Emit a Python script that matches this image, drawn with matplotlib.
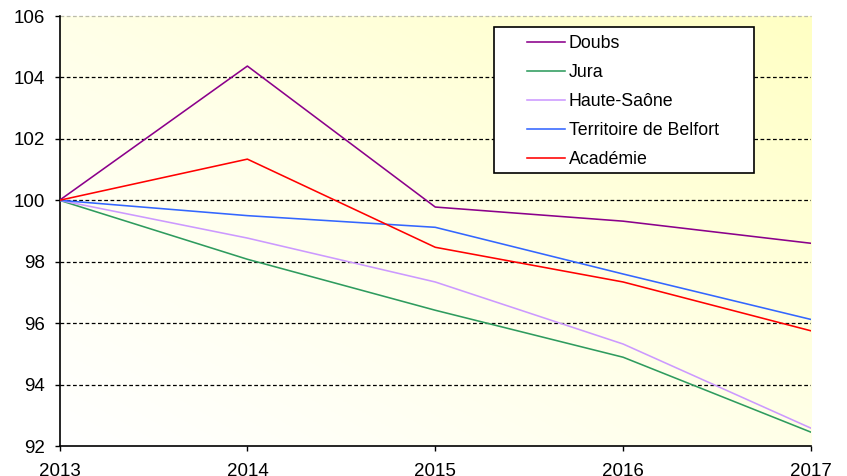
import numpy as np
import matplotlib.pyplot as plt
from matplotlib.colors import LinearSegmentedColormap
from matplotlib.patches import Rectangle
from matplotlib.lines import Line2D

plt.rcParams['font.family'] = ['Liberation Sans', 'DejaVu Sans']

# Data
years = [2013, 2014, 2015, 2016, 2017]
doubs = [100, 104.37, 99.78, 99.32, 98.60]
jura = [100, 98.08, 96.42, 94.89, 92.45]
haute_saone = [100, 98.77, 97.34, 95.32, 92.58]
belfort = [100, 99.50, 99.12, 97.60, 96.12]
academie = [100, 101.34, 98.47, 97.34, 95.75]

series = [
    ('Doubs', doubs, '#8B008B'),
    ('Jura', jura, '#2E9B5E'),
    ('Haute-Saône', haute_saone, '#CC99FF'),
    ('Territoire de Belfort', belfort, '#3366FF'),
    ('Académie', academie, '#FF0000'),
]

W, H = 847, 476
fig = plt.figure(figsize=(W / 100, H / 100), dpi=100)
ax = fig.add_axes([59.5 / W, 30 / H, (811 - 59.5) / W, (446 - 16) / H])

# background gradient (white bottom-left -> pale yellow top-right)
gx, gy = np.meshgrid(np.linspace(0, 1, 200), np.linspace(0, 1, 200))
grad = (gx + gy) / 2
cmap = LinearSegmentedColormap.from_list('bg', ['#FFFFFF', '#FFFFE8', '#FFFFC4'])
ax.imshow(grad, cmap=cmap, origin='lower', extent=[0, 1, 0, 1],
          transform=ax.transAxes, aspect='auto', zorder=0)

for label, vals, col in series:
    ax.plot(years, vals, color=col, lw=1.15, label=label, zorder=3)

ax.set_xlim(2013, 2017)
ax.set_ylim(92, 106)
ax.set_xticks(years)
ax.set_yticks(range(92, 107, 2))
for y in range(94, 105, 2):
    ax.axhline(y, color='black', lw=0.9, ls=(0, (3, 2)), zorder=1)
ax.axhline(106, color='#BBBBAA', lw=0.9, ls=(0, (3, 2)), zorder=1, clip_on=False)

ax.spines['top'].set_visible(False)
ax.spines['right'].set_visible(False)
ax.spines['left'].set_linewidth(1.2)
ax.spines['bottom'].set_linewidth(1.2)
ax.tick_params(axis='both', direction='out', length=3.6, width=1, labelsize=13.5)
ax.tick_params(axis='x', pad=9)
ax.tick_params(axis='y', pad=7)

# legend box drawn by hand (figure pixel coords, y from top)
def px(x, y):
    return x / W, 1 - y / H

x0, y0 = px(494, 173)
x1, y1 = px(754, 27)
fig.patches.append(Rectangle((x0, y0), x1 - x0, y1 - y0, transform=fig.transFigure,
                             facecolor='white', edgecolor='black', lw=1.2, zorder=5))
for i, (label, vals, col) in enumerate(series):
    yy = 42 + 29 * i
    la, lb = px(527, yy), px(565, yy)
    fig.lines.append(Line2D([la[0], lb[0]], [la[1], lb[1]], color=col, lw=1.15,
                            transform=fig.transFigure, zorder=6))
    tx, ty = px(569, yy + 1.5)
    fig.text(tx, ty, label, fontsize=12.8, va='center', ha='left', zorder=6)

fig.savefig('out.png', dpi=100)
